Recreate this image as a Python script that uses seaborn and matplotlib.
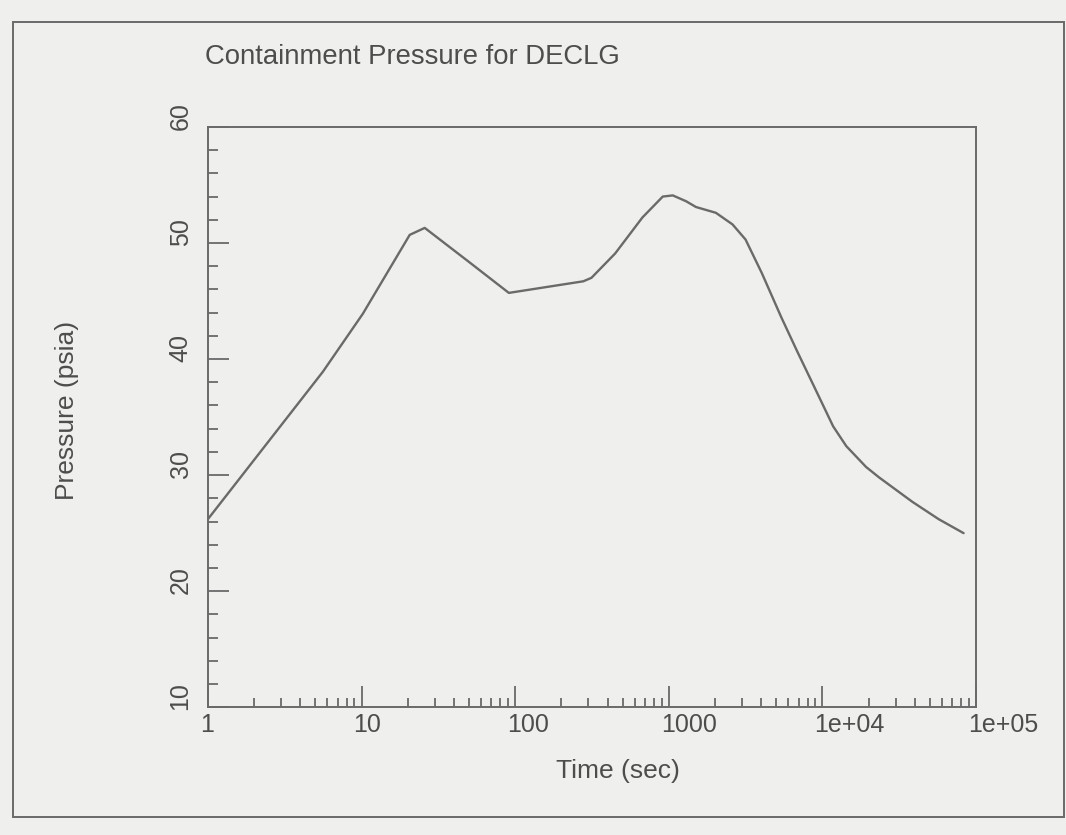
import matplotlib
matplotlib.use("Agg")
import matplotlib.pyplot as plt
import matplotlib.ticker as mticker
from matplotlib.patches import Rectangle
from matplotlib.transforms import ScaledTranslation
import numpy as np
import seaborn as sns

# values
time_s = [1, 5.6, 10.2, 20.6, 25.8, 49.7, 91, 278, 314, 448, 674, 914, 1062,
          1295, 1503, 2027, 2600, 3160, 4036, 5400, 6890, 8780, 11750, 14300,
          19250, 23400, 38500, 57200, 83000]
pressure_psia = [26.2, 38.9, 43.9, 50.7, 51.3, 48.4, 45.7, 46.7, 47.0, 49.1,
                 52.2, 54.0, 54.1, 53.6, 53.1, 52.6, 51.6, 50.3, 47.4, 43.6,
                 40.6, 37.7, 34.2, 32.5, 30.7, 29.8, 27.7, 26.2, 25.0]

x_ticks = [1, 10, 100, 1000, 1e4, 1e5]
x_tick_labels = ["1", "10", "100", "1000", "1e+04", "1e+05"]
y_ticks = [10, 20, 30, 40, 50, 60]

paper = "#efefed"
ink = "#4d4d4d"
line_c = "#6a6a6a"

sns.set_theme(style="white")
plt.rcParams["font.family"] = ["Liberation Sans", "DejaVu Sans"]
plt.rcParams["text.color"] = ink
plt.rcParams["axes.labelcolor"] = ink
plt.rcParams["xtick.color"] = ink
plt.rcParams["ytick.color"] = ink

fig = plt.figure(figsize=(10.66, 8.35), dpi=100, facecolor=paper)
ax = fig.add_axes([0.195, 0.153, 0.7206, 0.695])
ax.set_facecolor(paper)

sns.lineplot(x=time_s, y=pressure_psia, ax=ax, color=line_c, linewidth=1.7)

ax.set_xscale("log")
ax.set_xlim(1, 1e5)
ax.set_ylim(10, 60)

for side in ax.spines.values():
    side.set_color(line_c)
    side.set_linewidth(1.4)

ax.set_xticks(x_ticks, x_tick_labels)
ax.xaxis.set_minor_locator(mticker.LogLocator(base=10, subs=np.arange(2, 10), numticks=20))
ax.xaxis.set_minor_formatter(mticker.NullFormatter())
ax.set_yticks(y_ticks)
ax.yaxis.set_minor_locator(mticker.MultipleLocator(2))

ax.tick_params(which="both", direction="in", colors=line_c, labelcolor=ink,
               bottom=True, left=True, top=False, right=False, width=1.3)
ax.tick_params(axis="x", which="major", length=15, pad=4, labelsize=18)
ax.tick_params(axis="x", which="minor", length=6.5)
ax.tick_params(axis="y", which="major", length=15, pad=11, labelsize=18)
ax.tick_params(axis="y", which="minor", length=7)

shift_x = ScaledTranslation(-0.08, 0, fig.dpi_scale_trans)
shift_y = ScaledTranslation(0, -0.03, fig.dpi_scale_trans)
for lab in ax.get_xticklabels():
    lab.set_ha("left")
    lab.set_transform(lab.get_transform() + shift_x)
for lab in ax.get_yticklabels():
    lab.set_rotation(90)
    lab.set_va("bottom")
    lab.set_transform(lab.get_transform() + shift_y)

ax.set_xlabel("Time (sec)", fontsize=19, va="center")
ax.xaxis.set_label_coords(0.534, -0.109)
ax.set_ylabel("Pressure (psia)", fontsize=19, va="center")
ax.yaxis.set_label_coords(-0.184, 0.512)

fig.text(205 / 1066, 1 - 57 / 835, "Containment Pressure for DECLG",
         fontsize=19.8, ha="left", va="center", color=ink)

# page frame around the figure
fig.add_artist(Rectangle((13 / 1066, 1 - 817 / 835), 1051 / 1066, 795 / 835,
                         transform=fig.transFigure, fill=False,
                         edgecolor=line_c, linewidth=1.4))

fig.savefig("out.png", dpi=100, facecolor=paper)
